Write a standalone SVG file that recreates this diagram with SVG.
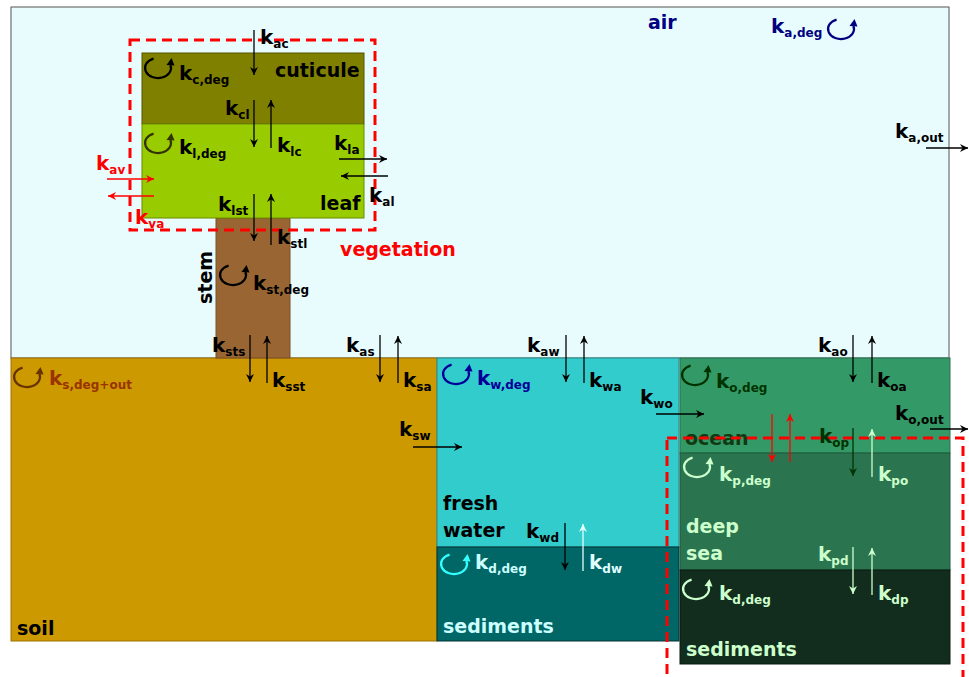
<svg xmlns="http://www.w3.org/2000/svg" xmlns:xlink="http://www.w3.org/1999/xlink" width="969" height="677" viewBox="0 0 969 677">
<style>
text{font-family:"DejaVu Sans","Liberation Sans",sans-serif;font-weight:bold}
.k{font-size:20px}
.s{font-size:12px}
.r{font-size:19px}
.ln{fill:none;stroke-width:1.3}
.blk{stroke:#000}
.red{stroke:#ff0000}
.dg{stroke:#003300}
.pg{stroke:#ccffcc}
.pc{stroke:#e0ffff}
.box{stroke-width:1}
.dash{fill:none;stroke:#ff0000;stroke-width:3;stroke-dasharray:10 6}
.icon{fill:none;stroke:currentColor;stroke-width:2.2}
</style>
<defs>
<marker id="mb" markerUnits="userSpaceOnUse" markerWidth="9" markerHeight="8" refX="8" refY="4" orient="auto"><path d="M0,0 L8,4 L0,8 L2.5,4 z" fill="#000"/></marker>
<marker id="mr" markerUnits="userSpaceOnUse" markerWidth="9" markerHeight="8" refX="8" refY="4" orient="auto"><path d="M0,0 L8,4 L0,8 L2.5,4 z" fill="#ff0000"/></marker>
<marker id="mdg" markerUnits="userSpaceOnUse" markerWidth="9" markerHeight="8" refX="8" refY="4" orient="auto"><path d="M0,0 L8,4 L0,8 L2.5,4 z" fill="#003300"/></marker>
<marker id="mpg" markerUnits="userSpaceOnUse" markerWidth="9" markerHeight="8" refX="8" refY="4" orient="auto"><path d="M0,0 L8,4 L0,8 L2.5,4 z" fill="#ccffcc"/></marker>
<marker id="mpc" markerUnits="userSpaceOnUse" markerWidth="9" markerHeight="8" refX="8" refY="4" orient="auto"><path d="M0,0 L8,4 L0,8 L2.5,4 z" fill="#e0ffff"/></marker>
<g id="cyc">
<path class="icon" d="M-4.4,-9.4 A13,10 0 1 0 12.4,-3"/>
<path d="M8.5,-3 L13.5,-10 L16.5,-2.5 z" fill="currentColor"/>
</g>
</defs>

<g id="air">
<rect x="11" y="7" width="938" height="351" fill="#e8fcfd" stroke="#555" class="box"/>
<text x="648" y="29" class="r" fill="#000080">air</text>
<text x="771" y="33" class="k" fill="#000080">k<tspan class="s" dy="4">a,deg</tspan></text>
<use xlink:href="#cyc" x="841" y="29" style="color:#000080"/>
</g>

<g id="soil">
<rect x="11" y="358" width="426" height="283" fill="#cc9900" stroke="#a07000" class="box"/>
<text x="17" y="635" class="r" fill="#000">soil</text>
<use xlink:href="#cyc" x="27" y="377" style="color:#663300"/>
<text x="49" y="385" class="k" fill="#993300">k<tspan class="s" dy="4">s,deg+out</tspan></text>
</g>

<g id="freshwater">
<rect x="437" y="358" width="242" height="189" fill="#33cccc" stroke="#2a8a8a" class="box"/>
<text x="443" y="510" class="r" fill="#000">fresh</text>
<text x="443" y="537" class="r" fill="#000">water</text>
<use xlink:href="#cyc" x="456" y="374" style="color:#000099"/>
<text x="477" y="385" class="k" fill="#000099">k<tspan class="s" dy="4">w,deg</tspan></text>
</g>

<g id="freshsediments">
<rect x="437" y="547" width="242" height="94" fill="#006666" stroke="#003333" class="box"/>
<text x="443" y="633" class="r" fill="#ccffff">sediments</text>
<use xlink:href="#cyc" x="454" y="564" style="color:#33ffff"/>
<text x="475" y="569" class="k" fill="#ccffff">k<tspan class="s" dy="4">d,deg</tspan></text>
</g>

<g id="ocean">
<rect x="680" y="358" width="270" height="95" fill="#339966" stroke="#2a7050" class="box"/>
<text x="685" y="445" class="r" fill="#0f3a12">ocean</text>
<use xlink:href="#cyc" x="695" y="375" style="color:#003300"/>
<text x="716" y="388" class="k" fill="#003300">k<tspan class="s" dy="4">o,deg</tspan></text>
</g>

<g id="deepsea">
<rect x="680" y="453" width="270" height="117" fill="#2a7550" stroke="#1e5a3c" class="box"/>
<text x="686" y="533" class="r" fill="#ccffcc">deep</text>
<text x="686" y="560" class="r" fill="#ccffcc">sea</text>
<use xlink:href="#cyc" x="697" y="467" style="color:#ccffcc"/>
<text x="719" y="481" class="k" fill="#ccffcc">k<tspan class="s" dy="4">p,deg</tspan></text>
</g>

<g id="oceansediments">
<rect x="680" y="570" width="270" height="94" fill="#122c1e" stroke="#0a1a10" class="box"/>
<text x="686" y="656" class="r" fill="#ccffcc">sediments</text>
<use xlink:href="#cyc" x="696" y="589" style="color:#ccffcc"/>
<text x="719" y="600" class="k" fill="#ccffcc">k<tspan class="s" dy="4">d,deg</tspan></text>
</g>

<g id="stem">
<rect x="216" y="218" width="74" height="140" fill="#996633" stroke="#7a4f24" class="box"/>
<text transform="translate(212,304) rotate(-90)" class="r" fill="#000">stem</text>
<use xlink:href="#cyc" x="233" y="275" style="color:#000"/>
<text x="253" y="290" class="k" fill="#000">k<tspan class="s" dy="4">st,deg</tspan></text>
</g>

<g id="cuticule">
<rect x="142" y="53" width="222" height="71" fill="#808000" stroke="#555500" class="box"/>
<text x="275" y="77" class="r" fill="#000">cuticule</text>
<use xlink:href="#cyc" x="158" y="68" style="color:#000"/>
<text x="179" y="80" class="k" fill="#000">k<tspan class="s" dy="4">c,deg</tspan></text>
</g>

<g id="leaf">
<rect x="142" y="124" width="222" height="94" fill="#99cc00" stroke="#6a8a00" class="box"/>
<text x="320" y="210" class="r" fill="#000">leaf</text>
<use xlink:href="#cyc" x="158" y="143" style="color:#333300"/>
<text x="179" y="154" class="k" fill="#000">k<tspan class="s" dy="4">l,deg</tspan></text>
</g>

<g id="vegetation">
<rect x="130" y="40" width="245" height="190" class="dash"/>
<text x="340" y="256" class="r" fill="#ff0000">vegetation</text>
</g>

<g id="deepocean-compartment">
<rect x="667" y="438" width="296" height="270" class="dash"/>
</g>

<g id="connectors">
<line x1="254" y1="30" x2="254" y2="75" class="ln blk" marker-end="url(#mb)"/>
<text x="260" y="44" class="k" fill="#000">k<tspan class="s" dy="4">ac</tspan></text>
<line x1="254" y1="100" x2="254" y2="147" class="ln blk" marker-end="url(#mb)"/>
<text x="225" y="115" class="k" fill="#000">k<tspan class="s" dy="4">cl</tspan></text>
<line x1="271" y1="148" x2="271" y2="100" class="ln blk" marker-end="url(#mb)"/>
<text x="277" y="152" class="k" fill="#000">k<tspan class="s" dy="4">lc</tspan></text>
<line x1="339" y1="159" x2="387" y2="159" class="ln blk" marker-end="url(#mb)"/>
<text x="334" y="150" class="k" fill="#000">k<tspan class="s" dy="4">la</tspan></text>
<line x1="388" y1="176" x2="341" y2="176" class="ln blk" marker-end="url(#mb)"/>
<text x="369" y="202" class="k" fill="#000">k<tspan class="s" dy="4">al</tspan></text>
<line x1="107" y1="179" x2="154" y2="179" class="ln red" marker-end="url(#mr)"/>
<text x="96" y="170" class="k" fill="#ff0000">k<tspan class="s" dy="4">av</tspan></text>
<line x1="154" y1="196" x2="108" y2="196" class="ln red" marker-end="url(#mr)"/>
<text x="135" y="224" class="k" fill="#ff0000">k<tspan class="s" dy="4">va</tspan></text>
<line x1="254" y1="194" x2="254" y2="241" class="ln blk" marker-end="url(#mb)"/>
<text x="218" y="211" class="k" fill="#000">k<tspan class="s" dy="4">lst</tspan></text>
<line x1="271" y1="245" x2="271" y2="194" class="ln blk" marker-end="url(#mb)"/>
<text x="277" y="244" class="k" fill="#000">k<tspan class="s" dy="4">stl</tspan></text>
<line x1="250" y1="335" x2="250" y2="382" class="ln blk" marker-end="url(#mb)"/>
<text x="212" y="352" class="k" fill="#000">k<tspan class="s" dy="4">sts</tspan></text>
<line x1="267" y1="383" x2="267" y2="336" class="ln blk" marker-end="url(#mb)"/>
<text x="272" y="387" class="k" fill="#000">k<tspan class="s" dy="4">sst</tspan></text>
<line x1="380" y1="335" x2="380" y2="382" class="ln blk" marker-end="url(#mb)"/>
<text x="346" y="352" class="k" fill="#000">k<tspan class="s" dy="4">as</tspan></text>
<line x1="398" y1="383" x2="398" y2="336" class="ln blk" marker-end="url(#mb)"/>
<text x="403" y="387" class="k" fill="#000">k<tspan class="s" dy="4">sa</tspan></text>
<line x1="566" y1="335" x2="566" y2="382" class="ln blk" marker-end="url(#mb)"/>
<text x="527" y="352" class="k" fill="#000">k<tspan class="s" dy="4">aw</tspan></text>
<line x1="584" y1="383" x2="584" y2="336" class="ln blk" marker-end="url(#mb)"/>
<text x="589" y="387" class="k" fill="#000">k<tspan class="s" dy="4">wa</tspan></text>
<line x1="413" y1="447" x2="462" y2="447" class="ln blk" marker-end="url(#mb)"/>
<text x="399" y="436" class="k" fill="#000">k<tspan class="s" dy="4">sw</tspan></text>
<line x1="656" y1="414" x2="704" y2="414" class="ln blk" marker-end="url(#mb)"/>
<text x="640" y="404" class="k" fill="#000">k<tspan class="s" dy="4">wo</tspan></text>
<line x1="565" y1="523" x2="565" y2="570" class="ln blk" marker-end="url(#mb)"/>
<text x="526" y="538" class="k" fill="#000">k<tspan class="s" dy="4">wd</tspan></text>
<line x1="583" y1="571" x2="583" y2="524" class="ln pc" marker-end="url(#mpc)"/>
<text x="589" y="569" class="k" fill="#e0ffff">k<tspan class="s" dy="4">dw</tspan></text>
<line x1="853" y1="335" x2="853" y2="382" class="ln blk" marker-end="url(#mb)"/>
<text x="818" y="352" class="k" fill="#000">k<tspan class="s" dy="4">ao</tspan></text>
<line x1="872" y1="383" x2="872" y2="336" class="ln blk" marker-end="url(#mb)"/>
<text x="877" y="387" class="k" fill="#000">k<tspan class="s" dy="4">oa</tspan></text>
<line x1="772" y1="414" x2="772" y2="462" class="ln red" marker-end="url(#mr)"/>
<line x1="790" y1="462" x2="790" y2="414" class="ln red" marker-end="url(#mr)"/>
<line x1="853" y1="428" x2="853" y2="476" class="ln dg" marker-end="url(#mdg)"/>
<text x="819" y="443" class="k" fill="#003300">k<tspan class="s" dy="4">op</tspan></text>
<line x1="872" y1="477" x2="872" y2="429" class="ln pg" marker-end="url(#mpg)"/>
<text x="878" y="481" class="k" fill="#ccffcc">k<tspan class="s" dy="4">po</tspan></text>
<line x1="853" y1="547" x2="853" y2="594" class="ln pg" marker-end="url(#mpg)"/>
<text x="818" y="561" class="k" fill="#ccffcc">k<tspan class="s" dy="4">pd</tspan></text>
<line x1="872" y1="595" x2="872" y2="548" class="ln pg" marker-end="url(#mpg)"/>
<text x="878" y="600" class="k" fill="#ccffcc">k<tspan class="s" dy="4">dp</tspan></text>
<line x1="926" y1="148" x2="968" y2="148" class="ln blk" marker-end="url(#mb)"/>
<text x="895" y="138" class="k" fill="#000">k<tspan class="s" dy="4">a,out</tspan></text>
<line x1="930" y1="429" x2="968" y2="429" class="ln blk" marker-end="url(#mb)"/>
<text x="895" y="420" class="k" fill="#000">k<tspan class="s" dy="4">o,out</tspan></text>
</g>
</svg>
